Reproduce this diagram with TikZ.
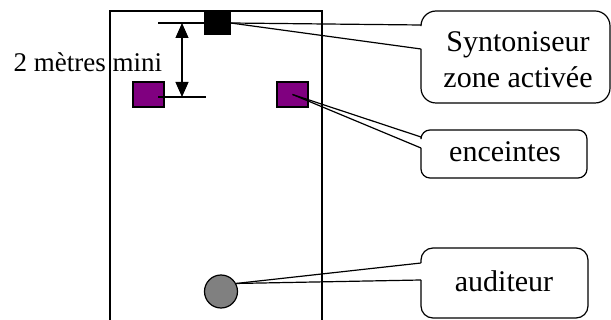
\documentclass[tikz,border=0pt]{standalone}
\usepackage{fontspec}
\setmainfont{Liberation Serif}
\usetikzlibrary{arrows.meta}
\definecolor{spkpurple}{HTML}{800080}
\definecolor{audgrey}{HTML}{808080}
\begin{document}
\begin{tikzpicture}[x=1pt,y=-1pt, line width=1.2pt,
  lbl/.style={font=\fontsize{30}{36}\selectfont, inner sep=0pt, anchor=base},
  spk/.style={draw, fill=spkpurple, minimum width=31pt, minimum height=25pt, inner sep=0pt},
  box/.style={rounded corners=15pt}]
\useasboundingbox (0,0) rectangle (611,320);
% room
\draw (110,322) -- (110,11) -- (322,11) -- (322,322);
% objects
\node[draw, fill=black, minimum width=25pt, minimum height=23pt, inner sep=0pt] (tuner) at (217.5,23) {};
\node[spk] (spkL) at (148.5,94.5) {};
\node[spk] (spkR) at (292.5,94.5) {};
\node[circle, draw, fill=audgrey, minimum size=33pt, inner sep=0pt] (aud) at (221,291.5) {};
% dimension
\coordinate (dtop) at (158,23);
\coordinate (dbot) at (158,97);
\coordinate (dbotr) at (206,97);
\coordinate (atop) at (182,23);
\coordinate (abot) at (182,97);
\draw (dtop) -- (tuner.west);
\draw (dbot) -- (dbotr);
\draw[{Triangle[length=15pt,width=13pt]}-{Triangle[length=15pt,width=13pt]}] (atop) -- (abot);
\node[lbl, font=\fontsize{27}{32}\selectfont, anchor=base west] (dimtxt) at (13,72) {2 mètres mini};
% callout 1
\coordinate (c1a) at (421,25);
\coordinate (c1b) at (421,49);
\draw[box] (c1a) -- (421,11) -- (610,11) -- (610,103) -- (421,103) -- (c1b);
\draw (tuner.east) -- (c1a);
\draw (tuner.east) -- (c1b);
\node[lbl] (t1a) at (518,52) {Syntoniseur};
\node[lbl] (t1b) at (518,88) {zone activée};
% callout 2
\coordinate (c2a) at (421,137);
\coordinate (c2b) at (421,148);
\draw[box, rounded corners=9pt] (c2a) -- (421,130) -- (587,130) -- (587,178) -- (421,178) -- (c2b);
\draw (spkR.center) -- (c2a);
\draw (spkR.center) -- (c2b);
\node[lbl] (t2) at (505,162) {enceintes};
% callout 3
\coordinate (c3a) at (421,263);
\coordinate (c3b) at (421,280);
\draw[box, rounded corners=12pt] (c3a) -- (421,248) -- (588,248) -- (588,318) -- (421,318) -- (c3b);
\draw (aud.28) -- (c3a);
\draw (aud.28) -- (c3b);
\node[lbl] (t3) at (504,292) {auditeur};
\end{tikzpicture}
\end{document}
